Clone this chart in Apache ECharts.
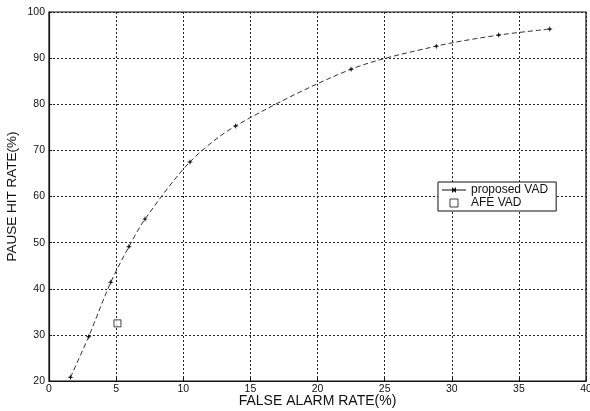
<!DOCTYPE html>
<html><head><meta charset="utf-8">
<script src="https://cdn.jsdelivr.net/npm/echarts@6/dist/echarts.min.js"></script>
<style>html,body{margin:0;padding:0;background:#fff}#c{width:590px;height:411px}</style>
</head><body><div id="c"></div>
<script>
const proposedX = [1.6, 2.95, 4.6, 5.95, 7.15, 10.5, 13.9, 22.5, 28.85, 33.5, 37.3];
const proposedY = [20.8, 29.6, 41.4, 49.1, 55.1, 67.5, 75.3, 87.6, 92.6, 95.0, 96.3];
const afeX = [5.1];
const afeY = [32.5];
const xTicks = [0, 5, 10, 15, 20, 25, 30, 35, 40];
const yTicks = [20, 30, 40, 50, 60, 70, 80, 90, 100];
const seriesNames = ['proposed VAD', 'AFE VAD'];
const xTitle = 'FALSE ALARM RATE(%)';
const yTitle = 'PAUSE HIT RATE(%)';

const chart = echarts.init(document.getElementById('c'), null, {renderer: 'canvas'});
const font = 'Liberation Sans, Arial, sans-serif';
const star = 'path://M0,-5 L1.2,-1.2 L5,0 L1.2,1.2 L0,5 L-1.2,1.2 L-5,0 L-1.2,-1.2 Z';
chart.setOption({
  animation: false,
  backgroundColor: '#fff',
  grid: {left: 49, right: 4, top: 12, bottom: 30, outerBoundsMode: 'none', containLabel: false,
         show: true, borderColor: '#111', borderWidth: 1.2},
  xAxis: {
    type: 'value', min: xTicks[0], max: xTicks[xTicks.length - 1], interval: 5,
    name: xTitle, nameLocation: 'middle', nameGap: 13, nameMoveOverlap: false,
    nameTextStyle: {fontFamily: font, fontSize: 14, color: '#111'},
    axisLine: {show: true, lineStyle: {color: '#111', width: 1.2}},
    axisTick: {show: true, inside: true, length: 3, lineStyle: {color: '#111'}},
    axisLabel: {fontFamily: font, fontSize: 10.5, color: '#111', margin: 3},
    splitLine: {show: true, lineStyle: {color: '#222', type: [2, 2], width: 1}}
  },
  yAxis: {
    type: 'value', min: yTicks[0], max: yTicks[yTicks.length - 1], interval: 10,
    name: yTitle, nameLocation: 'middle', nameGap: 30, nameMoveOverlap: false,
    nameTextStyle: {fontFamily: font, fontSize: 13.5, color: '#111'},
    axisLine: {show: true, lineStyle: {color: '#111', width: 1.2}},
    axisTick: {show: true, inside: true, length: 3, lineStyle: {color: '#111'}},
    axisLabel: {fontFamily: font, fontSize: 10.5, color: '#111', margin: 4},
    splitLine: {show: true, lineStyle: {color: '#222', type: [2, 2], width: 1}}
  },
  legend: {
    orient: 'vertical', left: 438, top: 182,
    backgroundColor: '#fff', borderColor: '#111', borderWidth: 1,
    padding: [2, 8, 2, 4], itemGap: 1, itemWidth: 24, itemHeight: 8,
    textStyle: {fontFamily: font, fontSize: 12, color: '#111'},
    data: [
      {name: seriesNames[0], icon: 'path://M0,4.5 L10,4.5 L10,2 L12,4 L14,2 L14,4.5 L24,4.5 L24,5.5 L14,5.5 L14,8 L12,6 L10,8 L10,5.5 L0,5.5 Z',
       itemStyle: {color: '#111', borderWidth: 0}},
      {name: seriesNames[1], icon: 'path://M0,0 L8,0 L8,8 L0,8 Z',
       itemStyle: {color: '#fff', borderColor: '#111', borderWidth: 1}}
    ]
  },
  series: [
    {
      name: seriesNames[0], type: 'line', smooth: 0.3,
      data: proposedX.map((x, i) => [x, proposedY[i]]),
      symbol: star, symbolSize: 6,
      lineStyle: {color: '#333', width: 1, type: [5, 3]},
      itemStyle: {color: '#111'}
    },
    {
      name: seriesNames[1], type: 'scatter',
      data: afeX.map((x, i) => [x, afeY[i]]),
      symbol: 'rect', symbolSize: 7,
      itemStyle: {color: '#fff', borderColor: '#111', borderWidth: 1}
    }
  ]
});
</script>
</body></html>
